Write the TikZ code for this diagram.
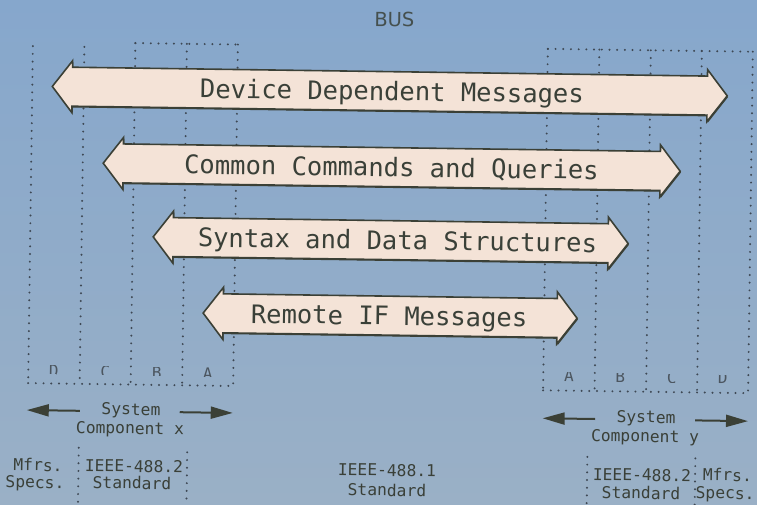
\documentclass[tikz,border=0pt]{standalone}
\usepackage{fontspec}
\usetikzlibrary{arrows.meta}
\newfontfamily\plotfont{DejaVu Sans Mono}
\newfontfamily\busfont{DejaVu Sans}
\definecolor{bgtop}{HTML}{86A7CC}
\definecolor{bgmid}{HTML}{7DA0C8}
\definecolor{bgbot}{HTML}{9AB0C6}
\definecolor{arrfill}{HTML}{F4E3D7}
\definecolor{arrline}{HTML}{3B4036}
\definecolor{txtcol}{HTML}{3A4038}
\definecolor{dotcol}{HTML}{3E4854}
\definecolor{letcol}{HTML}{4C5660}
\newcommand\busarrow[3]{%
  \fill[arrline,shift={(0.8,1.3)}] (#1,#2) -- (#1+20,#2-26) -- (#1+20,#2-19.5) -- (#3-20,#2-19.5) -- (#3-20,#2-26) -- (#3,#2) -- (#3-20,#2+26) -- (#3-20,#2+19.5) -- (#1+20,#2+19.5) -- (#1+20,#2+26) -- cycle;
  \draw[arrshape] (#1,#2) -- (#1+20,#2-26) -- (#1+20,#2-19.5) -- (#3-20,#2-19.5) -- (#3-20,#2-26) -- (#3,#2) -- (#3-20,#2+26) -- (#3-20,#2+19.5) -- (#1+20,#2+19.5) -- (#1+20,#2+26) -- cycle;}
\begin{document}
\begin{tikzpicture}[x=1pt,y=-1pt,
  arrshape/.style={fill=arrfill,draw=arrline,line width=1.6pt,line join=miter},
  bigtext/.style={anchor=base,inner sep=0pt,text=txtcol,font=\plotfont\fontsize{25.5}{28}\selectfont},
  smalltext/.style={anchor=base,inner sep=0pt,text=txtcol,font=\plotfont\fontsize{16.3}{18}\selectfont},
  lettext/.style={anchor=base,inner sep=0pt,text=letcol,font=\plotfont\fontsize{16}{18}\selectfont},
  dotline/.style={draw=dotcol,line width=2.2pt,line cap=round,dash pattern=on 0pt off 7.7pt},
  sysarrow/.style={draw=arrline,line width=2pt,-{Triangle[length=22pt,width=12pt]}}]
\useasboundingbox (0,0) rectangle (757,505);
\shade[top color=bgtop,middle color=bgmid,bottom color=bgbot] (0,0) rectangle (757,505);
\begin{scope}[rotate around={-0.8:(378.5,252.5)},transform shape]
% dotted frames, left component
\draw[dotline] (30,51) -- (30,388);
\draw[dotline] (81.5,51) -- (81.5,388);
\draw[dotline] (132.5,46.5) -- (132.5,388);
\draw[dotline] (184,46.5) -- (184,388);
\draw[dotline] (235,46.5) -- (235,388);
\draw[dotline] (132.5,46.5) -- (235,46.5);
\draw[dotline] (30,388) -- (235,388);
% dotted frames, right component
\foreach \x in {545,596.5,648,699,750} \draw[dotline] (\x,46.5) -- (\x,388);
\draw[dotline] (545,46.5) -- (750,46.5);
\draw[dotline] (545,388) -- (750,388);
% bottom separators
\draw[dotline] (81.5,452) -- (81.5,510);
\draw[dotline] (190,455) -- (190,510);
\draw[dotline] (590.2,454) -- (590.2,510);
\draw[dotline] (698.2,454) -- (698.2,510);
% layer letters (partly hidden)
\begin{scope}
\clip (20,369.5) rectangle (757,378.5);
\node[lettext] (lD) at (55.5,381.5) {D};
\node[lettext] (lC) at (107,381.5) {C};
\node[lettext] (lB) at (158.5,381.5) {B};
\node[lettext] (lA) at (209.5,381.5) {A};
\node[lettext] (rA) at (570.75,379) {A};
\node[lettext] (rB) at (622,379) {B};
\node[lettext] (rC) at (673.5,379) {C};
\node[lettext] (rD) at (724.5,379) {D};
\end{scope}
% bus arrows
\busarrow{50}{91}{725}
\busarrow{102}{167}{679}
\busarrow{153}{240}{628}
\busarrow{204}{315.5}{578}
\node[bigtext] (t1) at (389.7,100.3) {Device Dependent Messages};
\node[bigtext] (t2) at (390.3,176.3) {Common Commands and Queries};
\node[bigtext] (t3) at (397.3,249.3) {Syntax and Data Structures};
\node[bigtext] (t4) at (390,324.8) {Remote IF Messages};
\node[anchor=base,inner sep=0pt,text=txtcol!85!bgtop,font=\busfont\fontsize{19.5}{22}\selectfont] (bus) at (391.2,26.6) {BUS};
% system components
\node[smalltext] (sysL) at (133.2,418.5) {System};
\node[smalltext] (compL) at (132.5,437.5) {Component x};
\node[smalltext] (sysR) at (648.3,419.2) {System};
\node[smalltext] (compR) at (647.6,438.3) {Component y};
\coordinate (aL1) at (82,415);
\coordinate (aL1t) at (29,415);
\coordinate (aL2) at (182,415);
\coordinate (aL2t) at (235,415);
\coordinate (aR1) at (597.4,416);
\coordinate (aR1t) at (545,416);
\coordinate (aR2) at (697.4,416);
\coordinate (aR2t) at (750.4,416);
\draw[sysarrow] (aL1) -- (aL1t);
\draw[sysarrow] (aL2) -- (aL2t);
\draw[sysarrow] (aR1) -- (aR1t);
\draw[sysarrow] (aR2) -- (aR2t);
% standards
\node[smalltext] (mfL) at (41,475.8) {Mfrs.};
\node[smalltext] (spL) at (38.2,492.8) {Specs.};
\node[smalltext] (i2L) at (137,475.4) {IEEE-488.2};
\node[smalltext] (stL) at (135.2,492.4) {Standard};
\node[smalltext] (i1) at (390,475.9) {IEEE-488.1};
\node[smalltext] (st1) at (390.3,495.9) {Standard};
\node[smalltext] (i2R) at (645.1,477.3) {IEEE-488.2};
\node[smalltext] (stR) at (644.4,495.3) {Standard};
\node[smalltext] (mfR) at (730.5,476.1) {Mfrs.};
\node[smalltext] (spR) at (728.5,494.1) {Specs.};
\end{scope}
\end{tikzpicture}
\end{document}
